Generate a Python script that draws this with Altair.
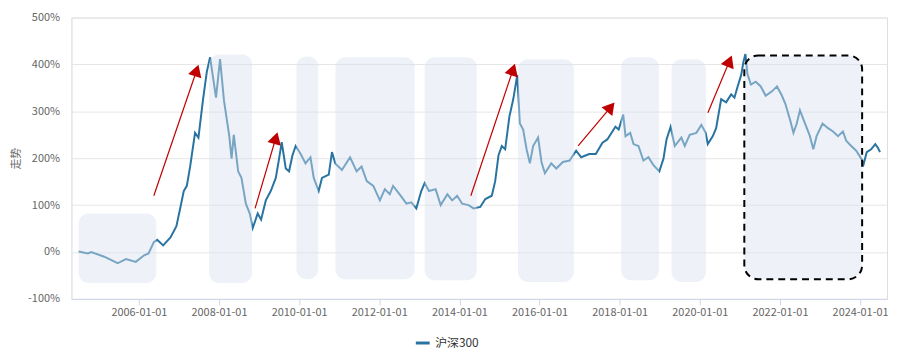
import altair as alt
import pandas as pd

# ---- main series: 沪深300 cumulative return (%) ----
series_name = "沪深300"
dates = [
    "2004-07-01", "2004-09-24", "2004-10-23", "2005-02-19", "2005-06-21", "2005-09-05",
    "2005-12-04", "2006-02-18", "2006-03-30", "2006-05-17", "2006-06-17", "2006-08-10",
    "2006-10-16", "2006-12-09", "2007-01-15", "2007-02-14", "2007-03-14", "2007-04-13",
    "2007-05-28", "2007-06-28", "2007-08-07", "2007-09-12", "2007-10-12", "2007-12-05",
    "2008-01-11", "2008-02-16", "2008-04-04", "2008-04-25", "2008-05-15", "2008-06-24",
    "2008-07-24", "2008-09-02", "2008-10-08", "2008-11-04", "2008-12-19", "2009-01-19",
    "2009-03-03", "2009-04-17", "2009-06-02", "2009-07-02", "2009-07-26", "2009-09-01",
    "2009-10-01", "2009-11-01", "2009-11-30", "2010-01-15", "2010-02-28", "2010-04-14",
    "2010-05-14", "2010-06-28", "2010-07-28", "2010-09-28", "2010-10-27", "2010-11-26",
    "2011-01-26", "2011-04-10", "2011-06-09", "2011-07-24", "2011-09-09", "2011-11-08",
    "2012-01-07", "2012-02-21", "2012-04-06", "2012-05-06", "2012-07-05", "2012-09-05",
    "2012-10-19", "2012-12-04", "2013-01-18", "2013-02-18", "2013-03-29", "2013-05-29",
    "2013-07-14", "2013-09-13", "2013-10-27", "2013-12-11", "2014-01-26", "2014-03-25",
    "2014-05-10", "2014-07-10", "2014-08-25", "2014-10-23", "2014-11-23", "2014-12-23",
    "2015-01-22", "2015-02-22", "2015-04-01", "2015-05-07", "2015-06-12", "2015-07-06",
    "2015-08-05", "2015-09-05", "2015-10-05", "2015-11-04", "2015-12-19", "2016-01-19",
    "2016-02-19", "2016-04-17", "2016-06-02", "2016-08-01", "2016-10-01", "2016-11-30",
    "2017-01-15", "2017-03-29", "2017-05-28", "2017-07-28", "2017-09-10", "2017-11-23",
    "2017-12-23", "2018-02-02", "2018-02-23", "2018-04-07", "2018-05-07", "2018-06-21",
    "2018-08-05", "2018-09-20", "2018-11-05", "2018-12-28", "2019-02-04", "2019-03-04",
    "2019-04-10", "2019-05-18", "2019-07-17", "2019-08-17", "2019-10-01", "2019-12-01",
    "2020-01-15", "2020-02-24", "2020-03-14", "2020-04-29", "2020-05-29", "2020-07-14",
    "2020-08-28", "2020-10-13", "2020-11-12", "2020-12-11", "2021-01-12", "2021-02-02",
    "2021-02-20", "2021-03-10", "2021-04-11", "2021-05-25", "2021-07-10", "2021-08-24",
    "2021-10-23", "2021-12-05", "2022-01-19", "2022-02-19", "2022-04-04", "2022-05-04",
    "2022-06-03", "2022-07-02", "2022-08-17", "2022-10-01", "2022-11-01", "2022-12-01",
    "2023-01-24", "2023-03-15", "2023-04-30", "2023-06-14", "2023-07-29", "2023-08-28",
    "2023-10-13", "2023-11-27", "2024-01-12", "2024-02-02", "2024-03-02", "2024-04-11",
    "2024-05-19", "2024-06-10", "2024-07-01",
]
values = [
    1, -3, 0, -10, -24, -15,
    -21, -7, -3, 21, 26, 14,
    31, 55, 96, 130, 141, 182,
    254, 244, 322, 384, 415, 329,
    411, 322, 247, 199, 250, 172,
    158, 103, 82, 51, 82, 69,
    110, 130, 158, 199, 234, 178,
    172, 206, 226, 209, 189, 202,
    158, 130, 158, 165, 213, 189,
    175, 202, 172, 182, 151, 141,
    110, 134, 123, 141, 123, 103,
    106, 93, 130, 147, 130, 134,
    100, 123, 110, 120, 103, 100,
    93, 96, 113, 120, 151, 206,
    226, 219, 288, 326, 377, 274,
    261, 219, 189, 226, 244, 192,
    168, 189, 178, 192, 195, 216,
    202, 209, 209, 233, 240, 267,
    261, 293, 247, 254, 230, 226,
    195, 202, 185, 172, 199, 240,
    267, 226, 244, 226, 250, 254,
    271, 254, 230, 247, 264, 326,
    319, 336, 329, 353, 377, 405,
    422, 380, 357, 363, 353, 333,
    343, 353, 333, 316, 281, 254,
    274, 302, 274, 247, 219, 247,
    274, 264, 257, 247, 257, 237,
    226, 216, 199, 187, 213, 219,
    230, 223, 213,
]

# ---- shaded highlight boxes (data coordinates) ----
box_start = ["2004-07-01", "2007-10-03", "2009-12-07", "2010-11-27", "2013-02-18",
             "2015-06-19", "2018-01-14", "2019-04-18"]
box_end = ["2006-06-09", "2008-10-29", "2010-06-24", "2012-11-19", "2014-06-08",
           "2016-11-09", "2018-12-25", "2020-02-26"]
box_top = [82, 421, 417, 415, 415, 411, 415, 411]
box_bottom = [-66, -66, -58, -58, -60, -64, -60, -64]

dash_start = ["2021-02-10"]
dash_end = ["2024-01-20"]
dash_top = [419]
dash_bottom = [-58]

# ---- red arrows ----
arrow_tail_date = ["2006-05-17", "2008-11-25", "2014-04-15", "2016-12-18", "2020-03-15"]
arrow_tail_val = [120, 93, 120, 226, 297]
arrow_head_date = ["2007-06-11", "2009-06-02", "2015-05-05", "2017-10-11", "2020-09-28"]
arrow_head_val = [387, 243, 389, 309, 407]
arrow_angle = [18, 16, 18, 39, 22]

x_ticks = [2006, 2008, 2010, 2012, 2014, 2016, 2018, 2020, 2022, 2024]
y_ticks = [-100, 0, 100, 200, 300, 400, 500]

line_df = pd.DataFrame({"date": dates, "value": values, "series": series_name})
box_df = pd.DataFrame({"date": box_start, "end": box_end, "top": box_top, "bottom": box_bottom})
dash_df = pd.DataFrame({"date": dash_start, "end": dash_end, "top": dash_top, "bottom": dash_bottom})
arrow_df = pd.DataFrame({
    "date": arrow_tail_date, "tv": arrow_tail_val,
    "hdate": arrow_head_date, "hv": arrow_head_val, "angle": arrow_angle,
})

FONT = "Noto Sans CJK SC"
LABEL = "#666666"
PLOT_H = 284

x_scale = alt.Scale(
    type="utc",
    domain=[alt.DateTime(year=2004, month=4, date=26, utc=True),
            alt.DateTime(year=2024, month=9, date=3, utc=True)],
)
y_scale = alt.Scale(domain=[-100, 500], nice=False, zero=False)

x_axis = alt.Axis(
    values=[alt.DateTime(year=y, month=1, date=1, utc=True) for y in x_ticks],
    format="%Y-%m-%d", title=None, grid=False,
    domainColor="#ccd6eb", tickColor="#ccd6eb", tickSize=6,
    labelColor=LABEL, labelFontSize=11, labelFont=FONT, labelPadding=2,
)
y_axis = alt.Axis(
    values=y_ticks, labelExpr="datum.value + '%'", title="走势",
    grid=True, gridColor="#e6e6e6", domainColor="#e0e6f0", ticks=False,
    labelColor=LABEL, labelFontSize=11, labelFont=FONT, labelPadding=12,
    titleColor=LABEL, titleFont=FONT, titleFontSize=11, titleFontWeight="normal",
    titleX=-55, titleY=PLOT_H / 2, titleBaseline="middle", titleAlign="center", titleAngle=270,
)

line = alt.Chart(line_df).mark_line(strokeWidth=2).encode(
    x=alt.X("date:T", scale=x_scale, axis=x_axis),
    y=alt.Y("value:Q", scale=y_scale, axis=y_axis),
    color=alt.Color(
        "series:N",
        scale=alt.Scale(domain=[series_name], range=["#2873a0"]),
        legend=alt.Legend(
            title=None, orient="none", legendX=346, legendY=320, padding=0,
            symbolType="stroke", symbolSize=196, symbolStrokeWidth=3,
            labelFont=FONT, labelFontSize=12, labelColor="#333333", labelFontWeight="normal",
        ),
    ),
)

boxes = alt.Chart(box_df).mark_rect(
    cornerRadius=10, fill="#d9e2ef", fillOpacity=0.45
).encode(
    x=alt.X("date:T"), x2="end:T",
    y=alt.Y("top:Q"), y2="bottom:Q",
)

dash_box = alt.Chart(dash_df).mark_rect(
    cornerRadius=14, fill="#d9e2ef", fillOpacity=0.45,
    stroke="black", strokeWidth=2, strokeDash=[7, 5],
).encode(
    x=alt.X("date:T"), x2="end:T",
    y=alt.Y("top:Q"), y2="bottom:Q",
)

arrow_lines = alt.Chart(arrow_df).mark_rule(color="#c00000", strokeWidth=1.2).encode(
    x=alt.X("date:T"), x2="hdate:T",
    y=alt.Y("tv:Q"), y2="hv:Q",
)
arrow_heads = alt.Chart(arrow_df).mark_point(
    shape="triangle-up", filled=True, size=196, color="#c00000", opacity=1
).encode(
    x=alt.X("hdate:T"),
    y=alt.Y("hv:Q"),
    angle=alt.Angle("angle:Q", scale=None),
)

chart = alt.layer(line, boxes, dash_box, arrow_lines, arrow_heads).properties(
    width=823, height=PLOT_H,
    autosize=alt.AutoSizeParams(type="none"),
    padding={"left": 64, "top": 8, "right": 4, "bottom": 50},
).configure_view(stroke=None).configure(font=FONT)

chart.save("out.html", embed_options={"renderer": "svg", "actions": False})
